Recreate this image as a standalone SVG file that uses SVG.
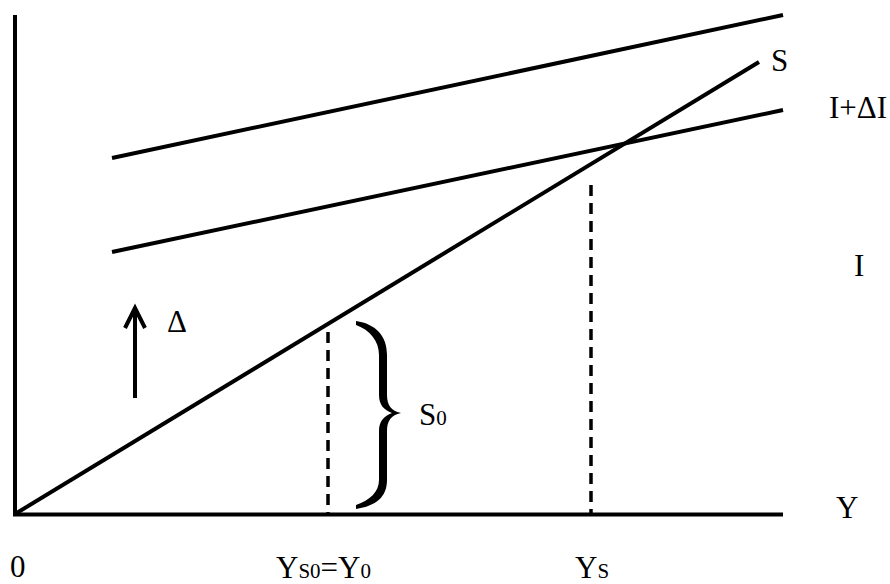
<svg xmlns="http://www.w3.org/2000/svg" width="890" height="584" viewBox="0 0 890 584">
<style>
.ln{stroke:#000;stroke-width:4;fill:none;stroke-linecap:butt}
.ds{stroke:#000;stroke-width:3.5;fill:none;stroke-dasharray:11 7}
text{font-family:"Liberation Serif","Times New Roman",serif;fill:#000;font-size:31px}
.sm{font-size:21px}
</style>
<rect width="890" height="584" fill="#fff"/>
<g id="axes">
<line class="ln" x1="15" y1="15" x2="15" y2="516"/>
<line class="ln" x1="13" y1="514.5" x2="783" y2="514.5"/>
</g>
<g id="connectors">
<line id="S-line" class="ln" x1="15" y1="514" x2="759" y2="62"/>
<line id="upper-line" class="ln" x1="112" y1="158" x2="783" y2="15"/>
<line id="middle-line" class="ln" x1="112" y1="252" x2="783" y2="110"/>
<line class="ds" x1="328" y1="332" x2="328" y2="514"/>
<line class="ds" x1="591" y1="185" x2="591" y2="514"/>
<g id="arrow">
<line class="ln" x1="135" y1="398" x2="135" y2="308"/>
<polyline class="ln" points="125,328 135,308 145,328" stroke-linejoin="miter"/>
</g>
</g>
<g id="brace">
<path fill="#000" d="M356,321 C376,324 387,336 387,355 L387,395 C387,405 391,411 401,413 C391,415 387,421 387,431 L387,480 C387,497 376,506 356,509 L356,505 C370,500 379,492 379,480 L379,431 C379,421 384,416 392,413 C384,410 379,405 379,395 L379,355 C379,341 370,330 356,325 Z"/>
</g>
<g id="labels">
<text x="771" y="71">S</text>
<text x="829" y="118">I+ΔI</text>
<text x="854" y="276">I</text>
<text x="836" y="518">Y</text>
<text x="10" y="577">0</text>
<text x="167" y="332">Δ</text>
<text x="419" y="425">S<tspan class="sm">0</tspan></text>
<text x="276" y="578">Y<tspan class="sm">S0</tspan>=Y<tspan class="sm">0</tspan></text>
<text x="575" y="578">Y<tspan class="sm">S</tspan></text>
</g>
</svg>
